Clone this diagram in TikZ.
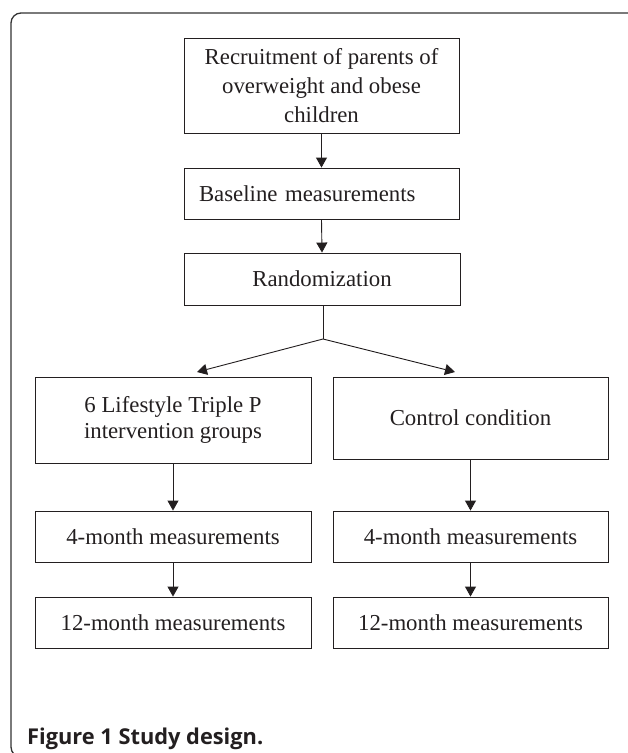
\documentclass[tikz,border=0pt]{standalone}
\usepackage{fontspec}
\setmainfont{Liberation Serif}
\newfontfamily\capfont{Open Sans}
\usetikzlibrary{arrows.meta}
\definecolor{ink}{HTML}{231F20}
\begin{document}
\begin{tikzpicture}[x=1pt,y=-1pt,
  box/.style={draw=ink, line width=0.9pt, inner sep=0pt, align=center,
    text=ink, font=\fontsize{22.8}{29}\selectfont},
  arr/.style={draw=ink, line width=0.9pt, -{Triangle[width=11pt,length=10pt]}},
  conn/.style={draw=ink, line width=0.9pt},
  framestyle/.style={draw=black!80, line width=1.3pt, rounded corners=10pt}]
\useasboundingbox (0,0) rectangle (628,753);
\begin{scope}
\clip (0,0) rectangle (628,753);
\draw[framestyle] (660,13) -- (11,13) -- (11,757) -- (660,757);
\end{scope}

\node[box, minimum width=275pt, minimum height=95pt] (rec) at (321.5,85.5)
  {Recruitment of parents of\\overweight and obese\\children};
\node[box, minimum width=275pt, minimum height=51pt, align=left,
  text width=245pt, inner xsep=15pt] (base) at (321.5,193.5) {Baseline measurements};
\node[box, minimum width=276pt, minimum height=52pt] (rand) at (322,279) {Randomization};

\node[box, minimum width=276pt, minimum height=86pt,
  font=\fontsize{22.8}{25.5}\selectfont] (life) at (173,420)
  {6 Lifestyle Triple P\\intervention groups};
\node[box, minimum width=275pt, minimum height=82pt] (ctrl) at (470.5,418) {Control condition};

\node[box, minimum width=276pt, minimum height=51pt] (f4L) at (173,536.5) {4-month measurements};
\node[box, minimum width=275pt, minimum height=51pt] (f4R) at (470.5,536.5) {4-month measurements};
\node[box, minimum width=276pt, minimum height=51pt] (f12L) at (173,622.5) {12-month measurements};
\node[box, minimum width=275pt, minimum height=51pt] (f12R) at (470.5,622.5) {12-month measurements};

\coordinate (split) at (323,339);
\coordinate (tipL) at (197,372);
\coordinate (tipR) at (455,372);

\draw[arr] (rec.south) -- (base.north);
\draw[arr] (base.south) -- (rand.north);
\draw[conn] (rand.south -| split) -- (split);
\draw[arr] (split) -- (tipL);
\draw[arr] (split) -- (tipR);
\draw[arr] (life.south) -- (f4L.north);
\draw[arr] (f4L.south) -- (f12L.north);
\draw[arr] (ctrl.south) -- (f4R.north);
\draw[arr] (f4R.south) -- (f12R.north);

\node[anchor=base west, inner sep=0pt, text=ink,
  font=\capfont\bfseries\fontsize{21.8}{25}\selectfont] (cap) at (27,744) {Figure 1 Study design.};
\end{tikzpicture}
\end{document}
